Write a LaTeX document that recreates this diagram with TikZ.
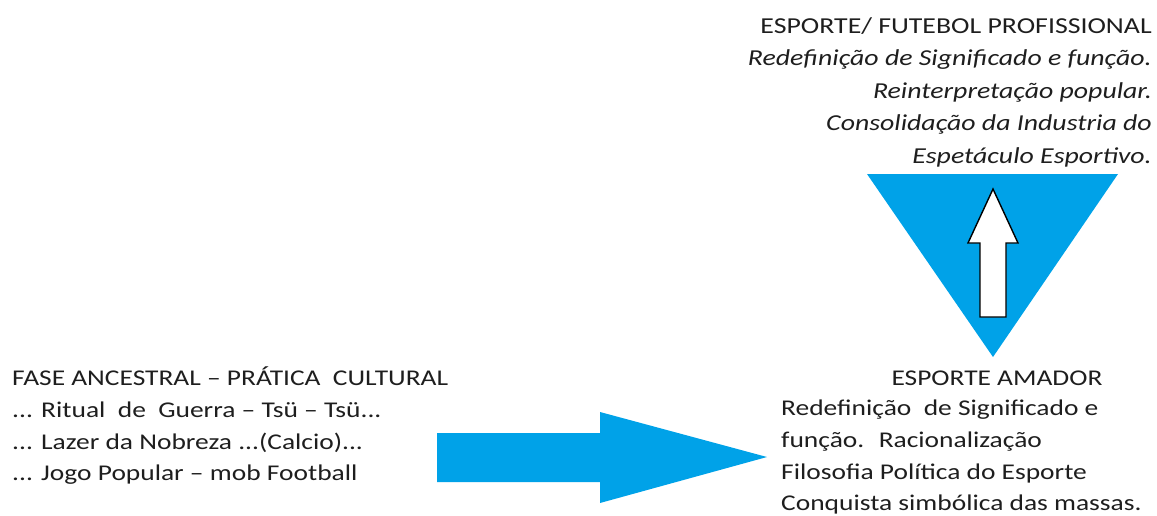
\documentclass[tikz,border=0pt]{standalone}
\usepackage{fontspec}
\setmainfont{Carlito}[FakeStretch=1.22]
\usepackage{xcolor}
\usetikzlibrary{positioning}
\definecolor{azul}{RGB}{0,162,232}
\definecolor{texto}{RGB}{30,30,30}

\begin{document}
\begin{tikzpicture}[x=1pt,y=-1pt,
% Text styles
bloco/.style={inner sep=0pt,font=\fontsize{22.5}{32.5}\selectfont,text=texto},
blocoesq/.style={bloco,align=left,font=\fontsize{22.5}{31.6}\selectfont},
blocodir/.style={bloco,align=right,font=\fontsize{22.8}{32.5}\selectfont},
% Shape styles
forma/.style={fill=azul,draw=none},
seta/.style={fill=white,draw=black,line width=1.4pt,line join=miter},
]
\useasboundingbox (0,0) rectangle (1157,515);

%% Draw text blocks
\node (prof) [blocodir,anchor=north east] at (1152,17)
{ESPORTE/ FUTEBOL PROFISSIONAL\\
\textit{Redefinição de Significado e função.}\\
\textit{Reinterpretação popular.}\\
\textit{Consolidação da Industria do}\\
\textit{Espetáculo Esportivo.}};
\node (ancestral) [blocoesq,anchor=north west] at (12,367)
{FASE ANCESTRAL -- PRÁTICA \ CULTURAL\\
... Ritual \ de \ Guerra -- Tsü -- Tsü...\\
... Lazer da Nobreza ...(Calcio)...\\
... Jogo Popular -- mob Football};
\node (amador) [bloco] at (997,378) {ESPORTE AMADOR};
\node (amadortxt) [blocoesq,anchor=north west] at (781,400)
{Redefinição \ de Significado e\\
função. \ Racionalização\\
Filosofia Política do Esporte\\
Conquista simbólica das massas.};

%% Draw arrows
\coordinate (ponta) at (767,457);
\fill[forma] (ponta) -- ++(-167,-45) -- ++(0,21) -- ++(-163,0)
  -- ++(0,49) -- ++(163,0) -- ++(0,21) -- cycle;
\coordinate (vertice) at (993,357);
\fill[forma] (vertice) -- ++(-126,-183) -- ++(251,0) -- cycle;
\coordinate (topo) at (993,189);
\draw[seta] (topo) -- ++(25,54) -- ++(-12,0) -- ++(0,74) -- ++(-26,0)
  -- ++(0,-74) -- ++(-12,0) -- cycle;

\end{tikzpicture}
\end{document}
